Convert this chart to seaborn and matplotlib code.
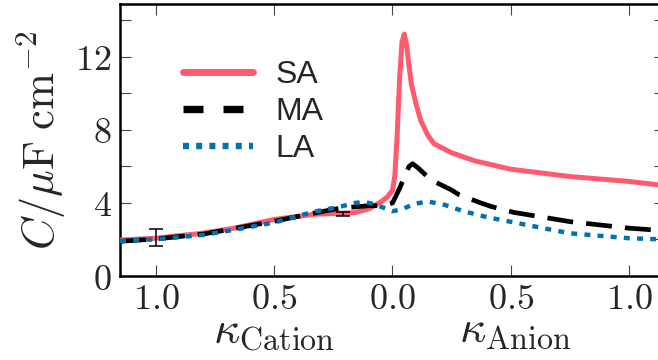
import numpy as np
import pandas as pd
import matplotlib
matplotlib.use("Agg")
import matplotlib.pyplot as plt
import matplotlib.transforms as mtransforms
import seaborn as sns

# ---- data (kappa: negative = cation side, positive = anion side) ----
sa_x = [-1.153, -1.0, -0.8, -0.67, -0.5, -0.33, -0.22, -0.16, -0.1, -0.05, -0.02, 0.0,
        0.01, 0.02, 0.03, 0.04, 0.05, 0.06, 0.07, 0.08, 0.1, 0.12, 0.15, 0.175,
        0.25, 0.35, 0.5, 0.75, 1.0, 1.153]
sa_y = [1.97, 2.07, 2.35, 2.62, 3.1, 3.38, 3.44, 3.47, 3.68, 4.05, 4.35, 4.7,
        5.5, 7.8, 10.8, 12.8, 13.25, 12.6, 11.5, 10.5, 9.4, 8.5, 7.7, 7.25,
        6.75, 6.3, 5.85, 5.45, 5.18, 4.95]

ma_x = [-1.153, -1.0, -0.8, -0.67, -0.5, -0.33, -0.22, -0.1, -0.04, 0.0, 0.03, 0.056,
        0.07, 0.085, 0.11, 0.162, 0.247, 0.282, 0.374, 0.417, 0.515, 0.75, 1.0, 1.153]
ma_y = [1.9, 2.03, 2.3, 2.6, 3.0, 3.45, 3.72, 3.85, 3.85, 4.0, 4.8, 5.6,
        6.0, 6.15, 5.9, 5.27, 4.73, 4.45, 4.0, 3.81, 3.48, 2.98, 2.62, 2.48]

la_x = [-1.153, -1.0, -0.8, -0.67, -0.5, -0.33, -0.22, -0.16, -0.12, -0.08, -0.04, 0.0,
        0.04, 0.09, 0.15, 0.22, 0.3, 0.4, 0.5, 0.75, 1.0, 1.153]
la_y = [1.92, 2.01, 2.25, 2.53, 2.93, 3.53, 3.8, 4.0, 4.05, 3.95, 3.75, 3.55,
        3.65, 3.95, 4.08, 3.9, 3.55, 3.22, 2.97, 2.34, 2.07, 2.0]

err_x = [-1.0, -0.21]
err_y = [2.1, 3.4]
err_e = [0.46, 0.1]

series_labels = ["SA", "MA", "LA"]
xtick_vals = [-1.0, -0.5, 0.0, 0.5, 1.0]
xtick_labels = [r"$1.0$", r"$0.5$", r"$0.0$", r"$0.5$", r"$1.0$"]
ytick_vals = [0, 2, 4, 6, 8, 10, 12, 14]
ytick_labels = [r"$0$", "", r"$4$", "", r"$8$", "", r"$12$", ""]

# ---- style ----
sns.set_style("ticks")
plt.rcParams["mathtext.fontset"] = "cm"
plt.rcParams["font.family"] = ["DejaVu Sans"]
plt.rcParams["lines.scale_dashes"] = False

fig = plt.figure(figsize=(6.58, 3.6), dpi=100)
ax = fig.add_axes([120 / 658, 84 / 360, 545 / 658, 272 / 360])

df_sa = pd.DataFrame({"k": sa_x, "C": sa_y})
df_ma = pd.DataFrame({"k": ma_x, "C": ma_y})
df_la = pd.DataFrame({"k": la_x, "C": la_y})

red = "#FF5A6E"
blue = "#0072B2"
sns.lineplot(data=df_sa, x="k", y="C", ax=ax, color=red, lw=3.6,
             label=series_labels[0], sort=False, zorder=3)
sns.lineplot(data=df_ma, x="k", y="C", ax=ax, color="black", lw=3.4,
             linestyle=(0, (18.7, 9.4)), label=series_labels[1], sort=False, zorder=4)
sns.lineplot(data=df_la, x="k", y="C", ax=ax, color=blue, lw=3.2,
             linestyle=(0, (4.3, 5.2)), label=series_labels[2], sort=False, zorder=5)

ax.errorbar(err_x, err_y, yerr=err_e, fmt="none", ecolor="black",
            elinewidth=1.1, capsize=5, capthick=1.1, zorder=6)

ax.set_xlim(-1.153, 1.153)
ax.set_ylim(0, 14.9)
ax.set_xticks(xtick_vals)
ax.set_xticklabels(xtick_labels)
ax.set_yticks(ytick_vals)
ax.set_yticklabels(ytick_labels)
ax.tick_params(axis="both", which="major", direction="in", length=8, width=0.8,
               color="#444444", labelsize=26, top=True, right=True)
ax.tick_params(axis="x", pad=4)
ax.tick_params(axis="y", pad=6)
for s in ax.spines.values():
    s.set_linewidth(1.8)
    s.set_color("black")
    s.set_visible(True)

ax.set_xlabel("")
ax.set_ylabel(r"$C/\mu\mathrm{F}\;\mathrm{cm}^{-2}$", fontsize=32)
ax.yaxis.set_label_coords(-0.095, 0.5)

trans = mtransforms.blended_transform_factory(ax.transData, ax.transAxes)
ax.text(-0.5, -0.245, r"$\kappa_{\mathrm{Cation}}$", transform=trans,
        ha="center", va="baseline", fontsize=33)
ax.text(0.52, -0.245, r"$\kappa_{\mathrm{Anion}}$", transform=trans,
        ha="center", va="baseline", fontsize=33)

leg = ax.legend(loc="upper left", bbox_to_anchor=(0.115, 0.793), frameon=False,
                prop={"family": "Liberation Sans", "size": 23},
                handlelength=2.2, handletextpad=0.7, labelspacing=0.22,
                borderaxespad=0.0, borderpad=0.0)
hl = leg.get_lines()
hl[0].set_linewidth(5)
hl[1].set_linewidth(5.3)
hl[1].set_dashes((14.4, 14.4))
hl[2].set_linewidth(4.6)

fig.savefig("out.png", dpi=100)
